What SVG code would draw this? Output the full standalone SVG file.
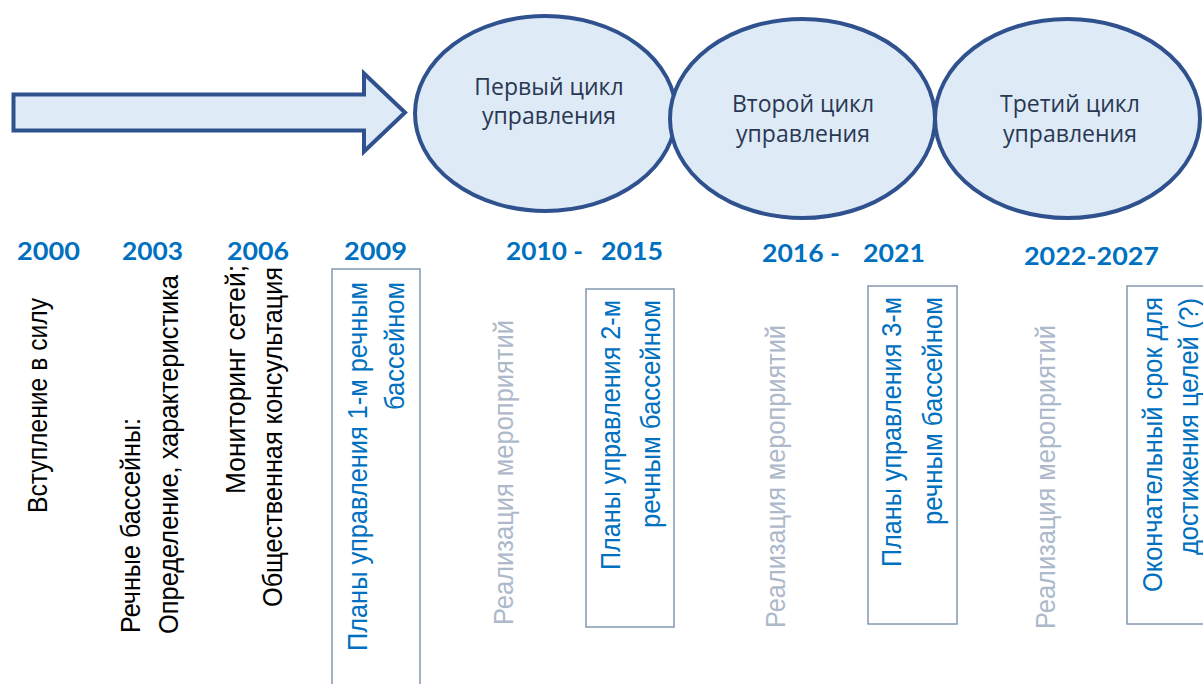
<svg xmlns="http://www.w3.org/2000/svg" width="1203" height="684" viewBox="0 0 1203 684">
  <style>
    .shape { fill: #DEEAF6; stroke: #2F528F; stroke-width: 4; }
    .cycle { font-family: "Open Sans", "DejaVu Sans", sans-serif; font-size: 23px; fill: #293852; text-anchor: middle; }
    .year { font-family: Lato, "Open Sans", sans-serif; font-weight: bold; font-size: 24px; fill: #0070C0; }
    .vt { font-family: "Liberation Sans", Arial, sans-serif; font-size: 28px; }
    .black { fill: #000000; }
    .blue { fill: #0070C0; }
    .grey { fill: #ADB9CA; }
    .end { text-anchor: end; }
    .box { fill: none; stroke: #8497B0; stroke-width: 1.5; }
  </style>

  <!-- Timeline lead-in arrow -->
  <g id="connectors">
    <polygon class="shape" points="13.5,94.5 364,94.5 364,73.5 405,112.5 364,151.5 364,130.5 13.5,130.5"/>
  </g>

  <!-- Management cycles -->
  <g id="cycle1">
    <ellipse class="shape" cx="545.5" cy="113.5" rx="130.5" ry="97.5"/>
    <text class="cycle" x="549" y="95">Первый цикл</text>
    <text class="cycle" x="549" y="124">управления</text>
  </g>
  <g id="cycle2">
    <ellipse class="shape" cx="802.5" cy="118.5" rx="132.5" ry="99.5"/>
    <text class="cycle" x="803" y="112">Второй цикл</text>
    <text class="cycle" x="803" y="142">управления</text>
  </g>
  <g id="cycle3">
    <ellipse class="shape" cx="1067.5" cy="118.5" rx="132.5" ry="99.5"/>
    <text class="cycle" x="1070" y="112">Третий цикл</text>
    <text class="cycle" x="1070" y="142">управления</text>
  </g>

  <!-- Years -->
  <g id="years">
    <text class="year" x="17" y="260" textLength="63" lengthAdjust="spacingAndGlyphs">2000</text>
    <text class="year" x="122" y="260" textLength="61" lengthAdjust="spacingAndGlyphs">2003</text>
    <text class="year" x="227" y="260" textLength="62" lengthAdjust="spacingAndGlyphs">2006</text>
    <text class="year" x="344" y="260" textLength="63" lengthAdjust="spacingAndGlyphs">2009</text>
    <text class="year" x="506" y="260" textLength="77" lengthAdjust="spacingAndGlyphs">2010 -</text>
    <text class="year" x="601" y="260" textLength="62" lengthAdjust="spacingAndGlyphs">2015</text>
    <text class="year" x="762" y="262" textLength="78" lengthAdjust="spacingAndGlyphs">2016 -</text>
    <text class="year" x="863" y="262" textLength="62" lengthAdjust="spacingAndGlyphs">2021</text>
    <text class="year" x="1024" y="265" textLength="135" lengthAdjust="spacingAndGlyphs">2022-2027</text>
  </g>

  <!-- 2000 -->
  <g id="event2000">
    <text class="vt black" transform="translate(46.5,513) rotate(-90)" textLength="215" lengthAdjust="spacingAndGlyphs">Вступление в силу</text>
  </g>

  <!-- 2003 -->
  <g id="event2003">
    <text class="vt black" transform="translate(140,633) rotate(-90)" textLength="215" lengthAdjust="spacingAndGlyphs">Речные бассейны:</text>
    <text class="vt black" transform="translate(178,634) rotate(-90)" textLength="359" lengthAdjust="spacingAndGlyphs">Определение, характеристика</text>
  </g>

  <!-- 2006 -->
  <g id="event2006">
    <text class="vt black end" transform="translate(245,265) rotate(-90)" textLength="229" lengthAdjust="spacingAndGlyphs">Мониторинг сетей;</text>
    <text class="vt black end" transform="translate(282,267) rotate(-90)" textLength="340" lengthAdjust="spacingAndGlyphs">Общественная консультация</text>
  </g>

  <!-- 2009: first plans -->
  <g id="plan1">
    <rect class="box" x="332" y="269" width="88" height="440"/>
    <text class="vt blue end" transform="translate(367,282) rotate(-90)" textLength="369" lengthAdjust="spacingAndGlyphs">Планы управления 1-м речным</text>
    <text class="vt blue end" transform="translate(404,282) rotate(-90)" textLength="128" lengthAdjust="spacingAndGlyphs">бассейном</text>
  </g>

  <!-- Implementation periods -->
  <g id="measures1">
    <text class="vt grey" transform="translate(513,625) rotate(-90)" textLength="305" lengthAdjust="spacingAndGlyphs">Реализация мероприятий</text>
  </g>
  <g id="measures2">
    <text class="vt grey" transform="translate(785,628) rotate(-90)" textLength="303" lengthAdjust="spacingAndGlyphs">Реализация мероприятий</text>
  </g>
  <g id="measures3">
    <text class="vt grey" transform="translate(1055,629) rotate(-90)" textLength="304" lengthAdjust="spacingAndGlyphs">Реализация мероприятий</text>
  </g>

  <!-- Second plans -->
  <g id="plan2">
    <rect class="box" x="586" y="289" width="88" height="338"/>
    <text class="vt blue end" transform="translate(620,300) rotate(-90)" textLength="270" lengthAdjust="spacingAndGlyphs">Планы управления 2-м</text>
    <text class="vt blue end" transform="translate(660,300) rotate(-90)" textLength="228" lengthAdjust="spacingAndGlyphs">речным бассейном</text>
  </g>

  <!-- Third plans -->
  <g id="plan3">
    <rect class="box" x="868" y="286" width="89" height="338"/>
    <text class="vt blue end" transform="translate(901,297) rotate(-90)" textLength="270" lengthAdjust="spacingAndGlyphs">Планы управления 3-м</text>
    <text class="vt blue end" transform="translate(942,297) rotate(-90)" textLength="228" lengthAdjust="spacingAndGlyphs">речным бассейном</text>
  </g>

  <!-- Final deadline -->
  <g id="deadline">
    <rect class="box" x="1127" y="286" width="90" height="338"/>
    <text class="vt blue end" transform="translate(1162,297) rotate(-90)" textLength="295" lengthAdjust="spacingAndGlyphs">Окончательный срок для</text>
    <text class="vt blue end" transform="translate(1198,298) rotate(-90)" textLength="257" lengthAdjust="spacingAndGlyphs">достижения целей (?)</text>
  </g>
</svg>
